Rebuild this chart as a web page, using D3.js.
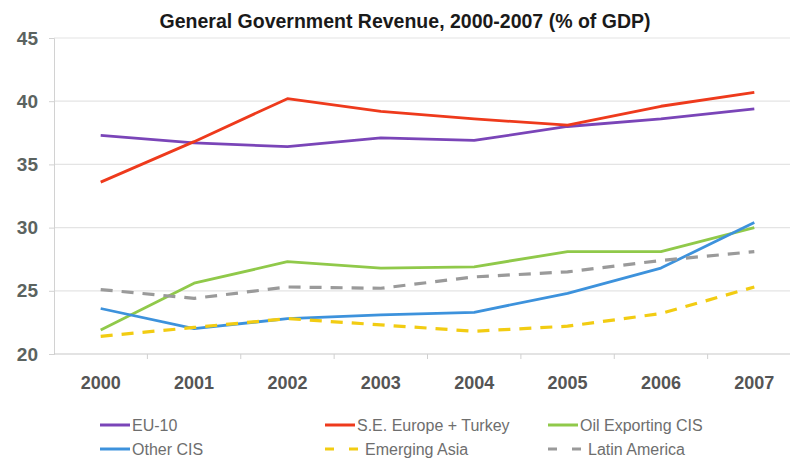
<!DOCTYPE html>
<html>
<head>
<meta charset="utf-8">
<script src="https://cdn.jsdelivr.net/npm/d3@7"></script>
<style>
  html, body { margin: 0; padding: 0; background: #fff; }
  svg { display: block; font-family: "Liberation Sans", Arial, sans-serif; }
</style>
</head>
<body>
<svg id="chart" width="794" height="461"></svg>
<script>
// Years on the category axis
const years = ["2000", "2001", "2002", "2003", "2004", "2005", "2006", "2007"];

// Revenue, % of GDP, per region
const eu10        = [37.3, 36.7, 36.4, 37.1, 36.9, 38.0, 38.6, 39.4];
const seEurope    = [33.6, 36.8, 40.2, 39.2, 38.6, 38.1, 39.6, 40.7];
const oilCIS      = [21.9, 25.6, 27.3, 26.8, 26.9, 28.1, 28.1, 30.0];
const otherCIS    = [23.6, 22.0, 22.8, 23.1, 23.3, 24.8, 26.8, 30.4];
const emergAsia   = [21.4, 22.1, 22.8, 22.3, 21.8, 22.2, 23.2, 25.3];
const latAmerica  = [25.1, 24.4, 25.3, 25.2, 26.1, 26.5, 27.4, 28.1];

const yTicks = [20, 25, 30, 35, 40, 45];

const seriesNames = ["EU-10", "S.E. Europe + Turkey", "Oil Exporting CIS",
                     "Other CIS", "Emerging Asia", "Latin America"];

const series = [
  { name: seriesNames[0], values: eu10,       color: "#7a45b8", dash: null },
  { name: seriesNames[1], values: seEurope,   color: "#ee3a1c", dash: null },
  { name: seriesNames[2], values: oilCIS,     color: "#90c94a", dash: null },
  { name: seriesNames[3], values: otherCIS,   color: "#3d92dc", dash: null },
  { name: seriesNames[4], values: emergAsia,  color: "#f2cc12", dash: "12,9" },
  { name: seriesNames[5], values: latAmerica, color: "#9a9a9a", dash: "12,9" }
];

const svg = d3.select("#chart");
const plot = { left: 54, right: 801, top: 38, bottom: 354 };

const x = d3.scaleBand().domain(years).range([plot.left, plot.right]);
const y = d3.scaleLinear().domain([20, 45]).range([plot.bottom, plot.top]);

// Title
svg.append("text")
  .attr("x", 405).attr("y", 28)
  .attr("text-anchor", "middle")
  .attr("font-size", 19.5).attr("font-weight", "bold")
  .attr("fill", "#1a1a1a")
  .text("General Government Revenue, 2000-2007 (% of GDP)");

// Horizontal gridlines
svg.append("g").selectAll("line")
  .data(yTicks.filter(d => d > 20))
  .join("line")
  .attr("x1", plot.left).attr("x2", 790)
  .attr("y1", d => y(d)).attr("y2", d => y(d))
  .attr("stroke", "#e4e4e4").attr("stroke-width", 1.2);

// Y axis
const yAxis = svg.append("g")
  .attr("transform", `translate(${plot.left},0)`)
  .call(d3.axisLeft(y).tickValues(yTicks).tickSize(5).tickPadding(11));
yAxis.select(".domain").attr("stroke", "#d2d2d2");
yAxis.selectAll(".tick line").attr("stroke", "#d2d2d2");
yAxis.selectAll("text")
  .attr("font-size", 19).attr("font-weight", "bold")
  .attr("fill", "#5b6360")
  .attr("font-family", "'Liberation Sans', Arial, sans-serif");

// X axis
const xAxis = svg.append("g")
  .attr("transform", `translate(0,${plot.bottom})`)
  .call(d3.axisBottom(x).tickSizeOuter(0).tickSize(0).tickPadding(22));
xAxis.select(".domain").attr("stroke", "#c8c8c8").attr("stroke-width", 1.2)
  .attr("d", `M${plot.left},0H790`);
xAxis.selectAll("text")
  .attr("font-size", 18).attr("font-weight", "bold")
  .attr("fill", "#555")
  .attr("font-family", "'Liberation Sans', Arial, sans-serif");
// Boundary tick marks between years
xAxis.append("g").selectAll("line")
  .data(years.slice(1))
  .join("line")
  .attr("x1", d => x(d)).attr("x2", d => x(d))
  .attr("y1", 0).attr("y2", 5)
  .attr("stroke", "#d0d0d0");

// Series lines
const line = d3.line()
  .x((d, i) => x(years[i]) + x.bandwidth() / 2)
  .y(d => y(d));

svg.append("g").selectAll("path")
  .data(series)
  .join("path")
  .attr("d", d => line(d.values))
  .attr("fill", "none")
  .attr("stroke", d => d.color)
  .attr("stroke-width", d => d.dash ? 3.2 : 2.8)
  .attr("stroke-dasharray", d => d.dash)
  .attr("stroke-linejoin", "round");

// Legend: two rows of three
const legendCols = [100, 325, 548];
const legendRows = [425, 449];
const legend = svg.append("g").selectAll("g")
  .data(series)
  .join("g")
  .attr("transform", (d, i) => `translate(${legendCols[i % 3]},${legendRows[Math.floor(i / 3)]})`);

legend.append("line")
  .attr("x1", 0).attr("x2", d => d.dash ? 38 : 30)
  .attr("y1", 0).attr("y2", 0)
  .attr("stroke", d => d.color)
  .attr("stroke-width", 3)
  .attr("stroke-dasharray", d => d.dash ? "9,15" : null);

legend.append("text")
  .attr("x", d => d.dash ? 40 : 32)
  .attr("y", 5.5)
  .attr("font-size", 16)
  .attr("fill", "#6e6e6e")
  .text(d => d.name);
</script>
</body>
</html>
